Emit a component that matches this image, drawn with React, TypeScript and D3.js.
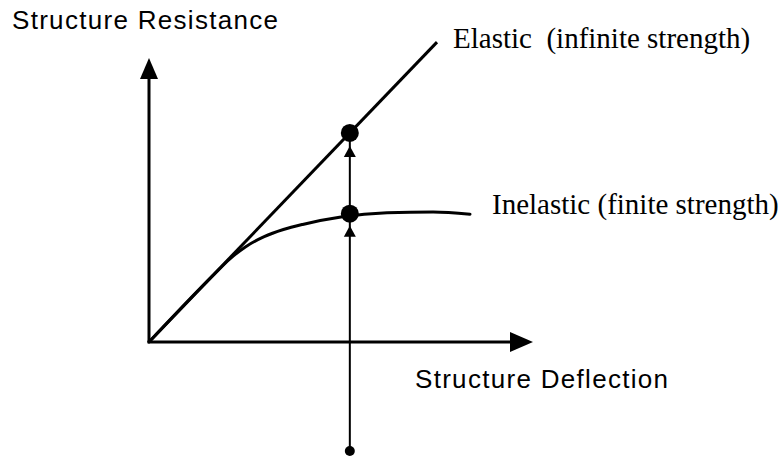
import React from "react";
import * as d3 from "d3";

// Axis domains (arbitrary units)
const xDomain: [number, number] = [0, 100];
const yDomain: [number, number] = [0, 100];

// Elastic (infinite strength) line: linear from origin
const elasticLine: [number, number][] = [
  [0, 0],
  [75, 105.6],
];

// Inelastic (finite strength) curve
const inelasticCurve: [number, number][] = [
  [0, 0],
  [17, 23.9],
  [21, 29.2],
  [25, 33.4],
  [30, 37.1],
  [35, 39.6],
  [40, 41.4],
  [50, 44.0],
  [62, 45.5],
  [74, 45.8],
  [83.6, 45.0],
];

// Reference deflection where the two responses are compared
const deflectionX = 52.3;
const elasticY = 73.6;
const inelasticY = 45.2;
const loadStartY = -38.4;

const labels = {
  yAxis: "Structure Resistance",
  xAxis: "Structure Deflection",
  elastic: "Elastic  (infinite strength)",
  inelastic: "Inelastic (finite strength)",
};

export default function App() {
  const W = 784;
  const H = 457;
  const x = d3.scaleLinear().domain(xDomain).range([149, 533]);
  const y = d3.scaleLinear().domain(yDomain).range([342, 58]);

  const line = d3
    .line<[number, number]>()
    .x((d) => x(d[0]))
    .y((d) => y(d[1]));
  const curve = d3
    .line<[number, number]>()
    .x((d) => x(d[0]))
    .y((d) => y(d[1]))
    .curve(d3.curveMonotoneX);

  const x0 = x(0);
  const y0 = y(0);
  const xTip = x(xDomain[1]);
  const yTip = y(yDomain[1]);
  const vx = x(deflectionX);

  const smallArrow = (tipY: number) =>
    `M${vx},${tipY} L${vx - 6},${tipY + 11} L${vx + 6},${tipY + 11} Z`;

  const sans = "'Liberation Sans', Arial, Helvetica, sans-serif";
  const serif = "'Liberation Serif', 'Times New Roman', Times, serif";

  return (
    <svg
      width={W}
      height={H}
      style={{ position: "absolute", left: 0, top: 0, background: "#fff" }}
    >
      <rect width={W} height={H} fill="#fff" />
      {/* axes */}
      <line x1={x0} y1={y0} x2={x0} y2={yTip + 18} stroke="#000" strokeWidth={3} />
      <path d={`M${x0},${yTip} L${x0 - 9},${yTip + 21} L${x0 + 9},${yTip + 21} Z`} fill="#000" />
      <line x1={x0 - 1.5} y1={y0} x2={xTip - 20} y2={y0} stroke="#000" strokeWidth={3} />
      <path d={`M${xTip},${y0} L${xTip - 23},${y0 - 10} L${xTip - 23},${y0 + 10} Z`} fill="#000" />

      {/* elastic line */}
      <path d={line(elasticLine) || ""} fill="none" stroke="#000" strokeWidth={3} />
      {/* inelastic curve */}
      <path d={curve(inelasticCurve) || ""} fill="none" stroke="#000" strokeWidth={3} strokeLinecap="round" />

      {/* vertical deflection line */}
      <line x1={vx} y1={y(loadStartY)} x2={vx} y2={y(elasticY)} stroke="#000" strokeWidth={2} />
      <path d={smallArrow(y(elasticY) + 13)} fill="#000" />
      <path d={smallArrow(y(inelasticY) + 12)} fill="#000" />
      <circle cx={vx} cy={y(elasticY)} r={9} fill="#000" />
      <circle cx={vx} cy={y(inelasticY)} r={9} fill="#000" />
      <circle cx={vx} cy={y(loadStartY)} r={5} fill="#000" />

      {/* labels */}
      <text x={12} y={29} fontFamily={sans} fontSize={26} letterSpacing={1.3}>
        {labels.yAxis}
      </text>
      <text x={415} y={388} fontFamily={sans} fontSize={26} letterSpacing={1.3}>
        {labels.xAxis}
      </text>
      <text x={453} y={48} fontFamily={serif} fontSize={29} style={{ whiteSpace: "pre" }}>
        {labels.elastic}
      </text>
      <text x={492} y={214} fontFamily={serif} fontSize={29}>
        {labels.inelastic}
      </text>
    </svg>
  );
}
